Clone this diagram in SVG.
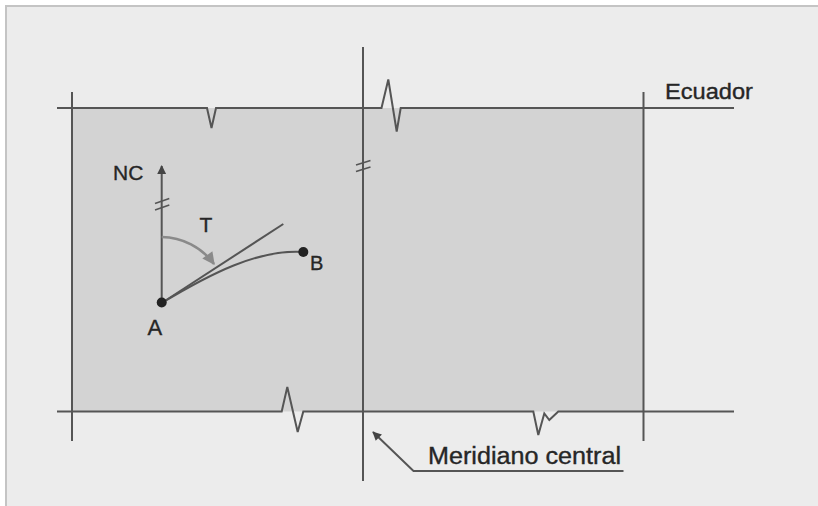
<svg xmlns="http://www.w3.org/2000/svg" width="818" height="506" viewBox="0 0 818 506">
  <defs>
    <style>
      .ln { fill: none; stroke: #555; stroke-width: 2; stroke-linejoin: miter; }
      .thin { fill: none; stroke: #555; stroke-width: 1.6; }
      .lbl { font-family: "Liberation Sans", Arial, sans-serif; fill: #262626; stroke: #262626; stroke-width: 0.35; }
    </style>
    <marker id="darr" viewBox="0 0 10 10" refX="9" refY="5" markerWidth="6" markerHeight="4.5" orient="auto" markerUnits="strokeWidth">
      <path d="M0,0 L10,5 L0,10 z" fill="#444"/>
    </marker>
    <marker id="garr" viewBox="0 0 10 10" refX="9" refY="5" markerWidth="6" markerHeight="5" orient="auto" markerUnits="strokeWidth">
      <path d="M0,0 L10,5 L0,10 z" fill="#8a8a8a"/>
    </marker>
  </defs>

  <rect x="0" y="0" width="818" height="506" fill="#ffffff"/>
  <rect id="frame" x="6" y="6" width="830" height="520" fill="#ececec" stroke="#c4c4c4" stroke-width="2"/>

  <g id="zone">
    <rect x="72" y="108" width="571" height="303.5" fill="#d3d3d3"/>
  </g>

  <g id="connectors">
    <path class="ln" d="M57,108 H207 L211.5,128 L216,108 H381.5 L388.3,79.5 L396.7,131.5 L400.7,108 H734"/>
    <path class="ln" d="M57,411.5 H281.7 L287.3,387 L297.7,432 L303.3,411.5 H533.3 L538.3,435 L544.3,413.5 L549.3,420 L558.3,411.5 H734"/>
    <line class="ln" x1="72" y1="92" x2="72" y2="441"/>
    <line class="ln" x1="643.5" y1="92" x2="643.5" y2="441"/>
    <line class="ln" x1="363" y1="47" x2="363" y2="481"/>
    <line class="thin" x1="356" y1="165" x2="370.5" y2="160.5"/>
    <line class="thin" x1="356" y1="171.5" x2="370.5" y2="167"/>
    <path class="ln" d="M623.5,471 H413.5 L373,432" marker-end="url(#darr)"/>
  </g>

  <g id="ecuador-label">
    <text class="lbl" x="665" y="99" font-size="22" textLength="88" lengthAdjust="spacingAndGlyphs">Ecuador</text>
  </g>

  <g id="meridiano-label">
    <text class="lbl" x="428" y="464" font-size="23" textLength="193" lengthAdjust="spacingAndGlyphs">Meridiano central</text>
  </g>

  <g id="nc">
    <line class="ln" x1="161.7" y1="303" x2="161.7" y2="166" marker-end="url(#darr)"/>
    <line class="thin" x1="155" y1="203.5" x2="169.3" y2="198.5"/>
    <line class="thin" x1="155" y1="210" x2="169.3" y2="205"/>
    <text class="lbl" x="113" y="180" font-size="21">NC</text>
  </g>

  <g id="angle-T">
    <path d="M161.7,237 A66,66 0 0 1 214,264" fill="none" stroke="#8a8a8a" stroke-width="2.5" marker-end="url(#garr)"/>
    <text class="lbl" x="199.5" y="231.5" font-size="21">T</text>
  </g>

  <g id="tangent">
    <line class="ln" x1="161.7" y1="303" x2="283.3" y2="224"/>
  </g>

  <g id="curve-AB">
    <path class="ln" d="M161.7,303 C210,274 258,249 303.3,252"/>
  </g>

  <g id="point-A">
    <circle cx="161.7" cy="302.5" r="5" fill="#222"/>
    <text class="lbl" x="147.5" y="334.5" font-size="22">A</text>
  </g>

  <g id="point-B">
    <circle cx="303.3" cy="252" r="5" fill="#222"/>
    <text class="lbl" x="310" y="269.5" font-size="20">B</text>
  </g>
</svg>
